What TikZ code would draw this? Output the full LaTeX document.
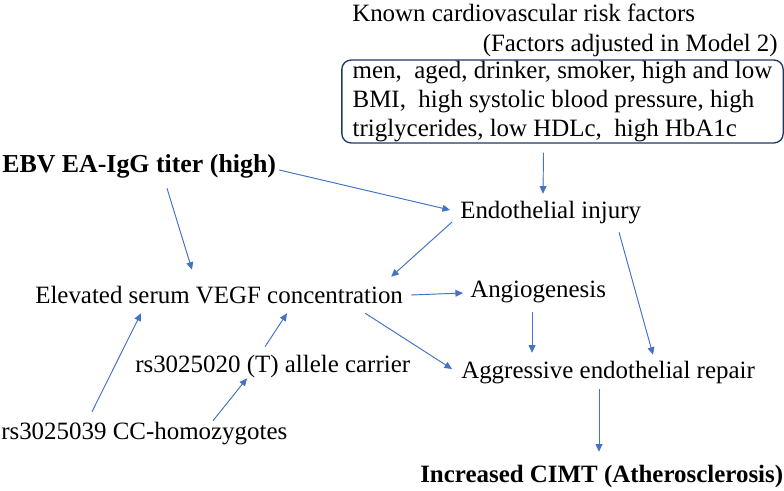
\documentclass[tikz,border=0pt]{standalone}
\usepackage{fontspec}
\setmainfont{Liberation Serif}
\usetikzlibrary{arrows.meta,calc}
\definecolor{arrblue}{HTML}{4472C4}
\definecolor{boxnavy}{HTML}{1F3864}

\begin{document}
\begin{tikzpicture}[x=0.75pt,y=-0.75pt,font=\fontsize{18.7}{21.4}\selectfont,
  >={Triangle[length=2.0mm,width=1.8mm]},
  txt/.style={inner sep=0pt,text height=13.5pt,text depth=4.5pt,anchor=base west},
  riskbox/.style={draw=boxnavy,line width=1pt,rounded corners=7pt,align=left,
             font=\fontsize{18.7}{22}\selectfont,inner xsep=0pt,inner ysep=0pt,
             minimum width=331pt,minimum height=62.25pt},
  arr/.style={->,draw=arrblue,fill=arrblue,line width=0.7pt}]
\useasboundingbox (0,0) rectangle (784,491);

% ---- risk factors (top right) ----
\node[txt] (known) at (352,22) {Known cardiovascular risk factors};
\node[txt,anchor=base east] (adj) at (778,52) {(Factors adjusted in Model 2)};
\node[riskbox] (risk) at (562.5,101.5)
  {men, \ aged, drinker, smoker, high and low\\
   BMI, \ high systolic blood pressure, high\\
   triglycerides, low HDLc, \ high HbA1c};

% ---- main nodes ----
\node[txt,font=\fontsize{19.4}{22}\selectfont] (ebv) at (2,173) {\textbf{EBV EA-IgG titer (high)}};
\node[txt] (endo) at (460,219) {Endothelial injury};
\node[txt] (vegf) at (35,303) {Elevated serum VEGF concentration};
\node[txt] (angio) at (470,297) {Angiogenesis};
\node[txt] (allele) at (135,372) {rs3025020 (T) allele carrier};
\node[txt] (repair) at (461,378) {Aggressive endothelial repair};
\node[txt] (homo) at (1,439) {rs3025039 CC-homozygotes};
\node[txt] (cimt) at (420,482) {\textbf{Increased CIMT (Atherosclerosis)}};

% ---- arrows ----
\draw[arr] ($(risk.south)+(-19,9)$) -- ($(endo.north west)+(83,-7)$);
\draw[arr] ($(ebv.east)+(3,3)$) -- ($(endo.west)+(-10,-3)$);
\draw[arr] ($(ebv.south west)+(165,9)$) -- ($(vegf.north west)+(157,-15)$);
\draw[arr] ($(endo.west)+(-8,9)$) -- ($(vegf.north east)+(-12,-8)$);
\draw[arr] ($(vegf.east)+(8,-2)$) -- ($(angio.west)+(-7,2)$);
\draw[arr] ($(endo.south west)+(159,7)$) -- ($(repair.north west)+(192,-5)$);
\draw[arr] ($(angio.south west)+(62,9)$) -- ($(repair.north west)+(71,-7)$);
\draw[arr] ($(vegf.south east)+(-38,4)$) -- ($(repair.west)+(-9,-3)$);
\draw[arr] ($(allele.north west)+(130,-7)$) -- ($(vegf.south west)+(252,4)$);
\draw[arr] ($(homo.north west)+(91,-9)$) -- ($(vegf.south west)+(106,4)$);
\draw[arr] ($(homo.north west)+(212,0)$) -- ($(allele.south west)+(112,0)$);
\draw[arr] ($(repair.south west)+(138,5)$) -- ($(cimt.north west)+(179,-12)$);
\end{tikzpicture}
\end{document}
